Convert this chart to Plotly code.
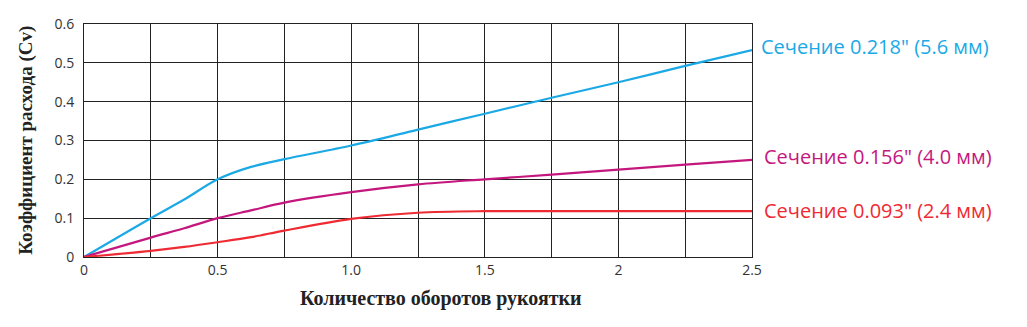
import plotly.graph_objects as go

turns = [0, 0.25, 0.375, 0.5, 0.625, 0.75, 1.0, 1.25, 1.5, 1.75, 2.0, 2.25, 2.5]
cv_218 = [0, 0.1, 0.148, 0.2, 0.232, 0.252, 0.287, 0.328, 0.369, 0.41, 0.45, 0.492, 0.533]
cv_156 = [0, 0.05, 0.074, 0.1, 0.12, 0.14, 0.167, 0.187, 0.2, 0.212, 0.225, 0.238, 0.25]
cv_093 = [0, 0.016, 0.026, 0.038, 0.051, 0.068, 0.098, 0.114, 0.118, 0.118, 0.118, 0.118, 0.118]

labels = ['Сечение 0.218" (5.6 мм)', 'Сечение 0.156" (4.0 мм)', 'Сечение 0.093" (2.4 мм)']
colors = ["#1BA9E6", "#C4177E", "#EE2A33"]
series = [cv_218, cv_156, cv_093]

x_tickvals = [0, 0.25, 0.5, 0.75, 1.0, 1.25, 1.5, 1.75, 2.0, 2.25, 2.5]
x_ticktext = ["0", "", "0.5", "", "1.0", "", "1.5", "", "2", "", "2.5"]
y_tickvals = [0, 0.1, 0.2, 0.3, 0.4, 0.5, 0.6]
y_ticktext = ["0", "0.1", "0.2", "0.3", "0.4", "0.5", "0.6"]

fig = go.Figure()
for vals, col, lab in zip(series, colors, labels):
    fig.add_trace(go.Scatter(x=turns, y=vals, mode="lines", name=lab,
                             line=dict(color=col, width=2.2, shape="spline", smoothing=0.9),
                             cliponaxis=False))

label_y = [0.542, 0.258, 0.121]
label_shift = [7, 10, 10]
ann = []
for lab, col, yy, sh in zip(labels, colors, label_y, label_shift):
    ann.append(dict(x=1.0, xref="paper", xanchor="left", xshift=sh, y=yy, yref="y",
                    text=lab, showarrow=False,
                    font=dict(family="Open Sans", size=20, color=col)))
ann.append(dict(x=0.534, xref="paper", y=-0.12, yref="paper", yanchor="top", xanchor="center",
                text="<b>Количество оборотов рукоятки</b>", showarrow=False,
                font=dict(family="Liberation Serif", size=20, color="#222222")))
ann.append(dict(x=-0.088, xref="paper", y=0.5, yref="paper", xanchor="center", textangle=-90,
                text="<b>Коэффициент расхода (Cv)</b>", showarrow=False,
                font=dict(family="Liberation Serif", size=19, color="#222222")))

fig.update_layout(
    width=1027, height=327,
    margin=dict(l=84, r=275, t=24, b=70),
    paper_bgcolor="white", plot_bgcolor="white",
    showlegend=False,
    annotations=ann,
    font=dict(family="Open Sans", size=14, color="#333333"),
)
fig.update_xaxes(range=[0, 2.5], tickvals=x_tickvals, ticktext=x_ticktext,
                 showgrid=True, gridcolor="#222222", gridwidth=1,
                 showline=True, linecolor="#222222", linewidth=1, mirror=True,
                 zeroline=False, ticks="", tickfont=dict(size=14, color="#333333"))
fig.update_yaxes(range=[0, 0.6], tickvals=y_tickvals, ticktext=y_ticktext,
                 showgrid=True, gridcolor="#222222", gridwidth=1,
                 showline=True, linecolor="#222222", linewidth=1, mirror=True,
                 zeroline=False, ticks="outside", ticklen=6, tickcolor="rgba(0,0,0,0)",
                 tickfont=dict(size=14, color="#333333"))

fig.write_html("out.html")
